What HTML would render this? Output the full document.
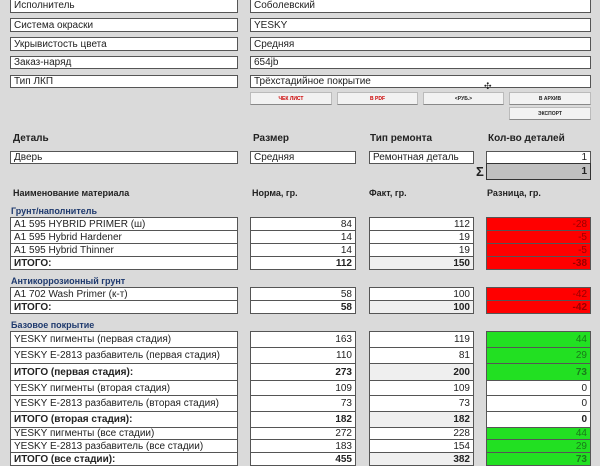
<!DOCTYPE html>
<html><head><meta charset="utf-8"><style>
body{margin:0;width:600px;height:464px;background:#dadada;position:relative;overflow:hidden;font-family:"Liberation Sans","DejaVu Sans",sans-serif;color:#222}
.b{position:absolute;background:#fff;border:1px solid #555;box-sizing:border-box;font-size:10px;padding:0 3px;display:flex;align-items:center;white-space:nowrap;overflow:hidden}
.r{justify-content:flex-end}
.t{position:absolute;font-size:10px;font-weight:bold;white-space:nowrap}
.s{position:absolute;font-size:9px;font-weight:bold;color:#1f3a6e;white-space:nowrap}
.btn{position:absolute;background:#f2f2f2;border:1px solid #bbb;border-bottom-color:#888;box-sizing:border-box;font-size:5px;font-weight:bold;display:flex;align-items:center;justify-content:center}
.red{background:#ff0000;color:#9a0000}
.grn{background:#22e022;color:#1a7a1a}
.bo{font-weight:bold}
.g{background:#efefef}
</style></head><body>
<div class="b" style="left:10px;top:-2px;width:228px;height:15px">Исполнитель</div>
<div class="b" style="left:250px;top:-2px;width:341px;height:15px">Соболевский</div>
<div class="b" style="left:10px;top:18px;width:228px;height:14px">Система окраски</div>
<div class="b" style="left:250px;top:18px;width:341px;height:14px">YESKY</div>
<div class="b" style="left:10px;top:37px;width:228px;height:14px">Укрывистость цвета</div>
<div class="b" style="left:250px;top:37px;width:341px;height:14px">Средняя</div>
<div class="b" style="left:10px;top:56px;width:228px;height:13px">Заказ-наряд</div>
<div class="b" style="left:250px;top:56px;width:341px;height:13px">654jb</div>
<div class="b" style="left:10px;top:75px;width:228px;height:13px">Тип ЛКП</div>
<div class="b" style="left:250px;top:75px;width:341px;height:13px">Трёхстадийное покрытие</div>
<div style="position:absolute;left:484px;top:81px;font-size:9px">✣</div>
<div class="btn" style="left:250px;top:92px;width:82px;height:13px;color:#c00">ЧЕК ЛИСТ</div>
<div class="btn" style="left:337px;top:92px;width:81px;height:13px;color:#c00">В PDF</div>
<div class="btn" style="left:423px;top:92px;width:81px;height:13px">&lt;РУБ.&gt;</div>
<div class="btn" style="left:509px;top:92px;width:82px;height:13px">В АРХИВ</div>
<div class="btn" style="left:509px;top:107px;width:82px;height:13px">ЭКСПОРТ</div>

<div class="t" style="left:13px;top:133px">Деталь</div>
<div class="t" style="left:253px;top:133px">Размер</div>
<div class="t" style="left:370px;top:133px">Тип ремонта</div>
<div class="t" style="left:488px;top:133px">Кол-во деталей</div>
<div class="b" style="left:10px;top:151px;width:228px;height:13px">Дверь</div>
<div class="b" style="left:250px;top:151px;width:106px;height:13px">Средняя</div>
<div class="b" style="left:369px;top:151px;width:105px;height:13px">Ремонтная деталь</div>
<div class="b r" style="left:486px;top:151px;width:105px;height:13px">1</div>
<div class="b r bo" style="left:486px;top:163px;width:105px;height:17px;background:#c0c0c0;border-color:#333">1</div>
<div style="position:absolute;left:476px;top:164px;font-size:13px;font-weight:bold">Σ</div>

<div class="t" style="left:13px;top:188px;font-size:9px">Наименование материала</div>
<div class="t" style="left:252px;top:188px;font-size:9px">Норма, гр.</div>
<div class="t" style="left:369px;top:188px;font-size:9px">Факт, гр.</div>
<div class="t" style="left:487px;top:188px;font-size:9px">Разница, гр.</div>

<div class="s" style="left:11px;top:206px">Грунт/наполнитель</div>
<div class="s" style="left:11px;top:276px">Антикоррозионный грунт</div>
<div class="s" style="left:11px;top:320px">Базовое покрытие</div>

<script>
function rows(data){
 var h='';
 data.forEach(function(d){
  var y=d[0],hh=d[1],b=d[6]?' bo':'';
  h+='<div class="b'+b+'" style="left:10px;top:'+y+'px;width:228px;height:'+(hh+1)+'px">'+d[2]+'</div>';
  h+='<div class="b r'+b+'" style="left:250px;top:'+y+'px;width:106px;height:'+(hh+1)+'px">'+d[3]+'</div>';
  h+='<div class="b r'+b+(d[6]?' g':'')+'" style="left:369px;top:'+y+'px;width:105px;height:'+(hh+1)+'px">'+d[4]+'</div>';
  var c=d[7]||'';
  h+='<div class="b r'+b+' '+c+'" style="left:486px;top:'+y+'px;width:105px;height:'+(hh+1)+'px">'+d[5]+'</div>';
 });
 document.write(h);
}
rows([
[217,13,'A1 595 HYBRID PRIMER (ш)',84,112,-28,0,'red'],
[230,13,'A1 595 Hybrid Hardener',14,19,-5,0,'red'],
[243,13,'A1 595 Hybrid Thinner',14,19,-5,0,'red'],
[256,13,'ИТОГО:',112,150,-38,1,'red'],
[287,13,'A1 702 Wash Primer (к-т)',58,100,-42,0,'red'],
[300,13,'ИТОГО:',58,100,-42,1,'red'],
[331,16,'YESKY пигменты (первая стадия)',163,119,44,0,'grn'],
[347,16,'YESKY E-2813 разбавитель (первая стадия)',110,81,29,0,'grn'],
[363,17,'ИТОГО (первая стадия):',273,200,73,1,'grn'],
[380,15,'YESKY пигменты (вторая стадия)',109,109,0,0,''],
[395,16,'YESKY E-2813 разбавитель (вторая стадия)',73,73,0,0,''],
[411,16,'ИТОГО (вторая стадия):',182,182,0,1,''],
[427,12,'YESKY пигменты (все стадии)',272,228,44,0,'grn'],
[439,13,'YESKY E-2813 разбавитель (все стадии)',183,154,29,0,'grn'],
[452,13,'ИТОГО (все стадии):',455,382,73,1,'grn']
]);
</script>
</body></html>
